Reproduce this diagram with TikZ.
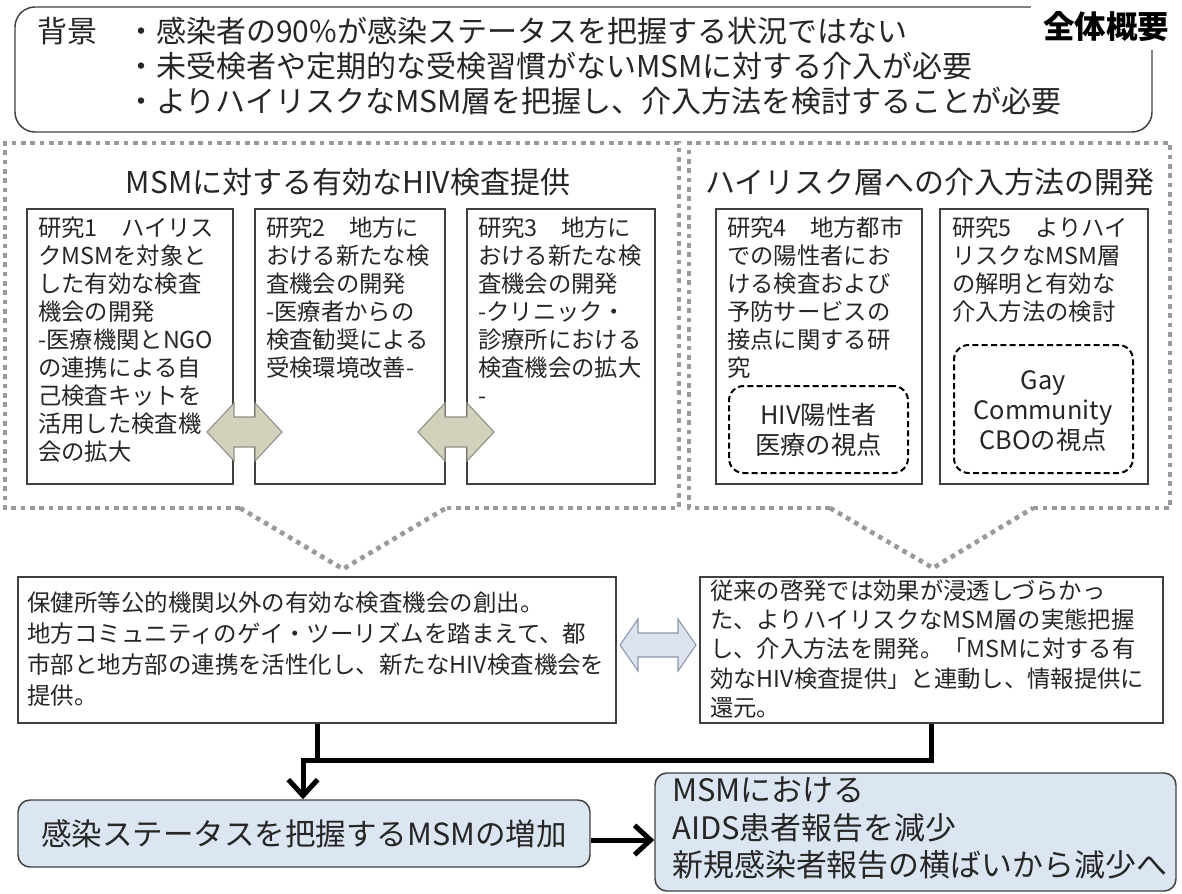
\documentclass[tikz,border=0pt]{standalone}
\usepackage{fontspec}
\setmainfont{Noto Sans CJK JP}
\usetikzlibrary{arrows.meta,fit}
\definecolor{txt}{HTML}{262626}
\definecolor{bord}{HTML}{404040}
\definecolor{dotgray}{HTML}{9A9A9A}
\definecolor{khaki}{HTML}{D3D0BC}
\definecolor{khakiline}{HTML}{8F8F86}
\definecolor{arrblue}{HTML}{DCE3EF}
\definecolor{arrblueline}{HTML}{8C96A8}
\definecolor{boxblue}{HTML}{DCE6F2}
\begin{document}
\begin{tikzpicture}[x=0.75pt,y=-0.75pt,
  plainbox/.style={draw=bord, line width=1.1pt, inner sep=0pt, fill=white},
  roundbox/.style={plainbox, rounded corners=15pt},
  bluebox/.style={draw=bord, line width=1.1pt, inner sep=0pt, fill=boxblue, rounded corners=9pt, text=txt},
  dashbox/.style={draw=black, line width=1.5pt, dashed, dash pattern=on 4.5pt off 2.5pt, rounded corners=11pt, inner sep=0pt},
  dotline/.style={draw=dotgray, line width=3.5pt, dash pattern=on 3.5pt off 3.5pt},
  txtnw/.style={inner sep=0pt, anchor=north west, align=left, text=txt},
  restext/.style={txtnw, font=\fontsize{17.5}{21}\selectfont},
  title/.style={inner sep=0pt, text=txt, font=\fontsize{22.5}{26}\selectfont},
  dashtext/.style={inner sep=0pt, align=center, text=txt, font=\fontsize{19}{22.5}\selectfont},
  khakiarrow/.style={fill=khaki, draw=khakiline, line width=0.8pt, line join=miter},
  bluearrow/.style={fill=arrblue, draw=arrblueline, line width=0.8pt, line join=miter},
  conn/.style={draw=black, line width=3.75pt},
  tipbarb/.style={-{Straight Barb[length=12pt,width=22pt]}}
]
\useasboundingbox (0,0) rectangle (1182,893);

% ---------- top background box ----------
\node[roundbox, fit={(15,7) (1152,132)}] (top) {};
\node[inner sep=0pt, minimum width=112pt, minimum height=34pt, fill=white, text=black,
      font=\fontsize{23.6}{26}\selectfont\bfseries] (label) at (1106,27) {全体概要};
\node[inner sep=0pt, anchor=west, text=txt, font=\fontsize{22.5}{26}\selectfont] (bg) at (37,31) {背景};
\node[txtnw, font=\fontsize{22.5}{26.25}\selectfont] (bgtext) at (126,17)
  {・感染者の90\%が感染ステータスを把握する状況ではない\\
   ・未受検者や定期的な受検習慣がないMSMに対する介入が必要\\
   ・よりハイリスクなMSM層を把握し、介入方法を検討することが必要};

% ---------- dotted group frames ----------
\coordinate (vl) at (343,569);
\coordinate (vr) at (933,568);
\draw[dotline] (240,508) -- (5,508) -- (5,143) -- (679,143) -- (679,508) -- (446,508);
\draw[dotline] (240,508) -- (vl) -- (446,508);
\draw[dotline] (830,508) -- (689,508) -- (689,143) -- (1170,143) -- (1170,508) -- (1033,508);
\draw[dotline] (830,508) -- (vr) -- (1033,508);
\node[title] (titleL) at (348,182) {MSMに対する有効なHIV検査提供};
\node[title] (titleR) at (930,182) {ハイリスク層への介入方法の開発};

% ---------- research boxes ----------
\node[plainbox, fit={(27,209) (233,484)}] (b1) {};
\node[plainbox, fit={(255,209) (445,484)}] (b2) {};
\node[plainbox, fit={(467,209) (655,484)}] (b3) {};
\node[plainbox, fit={(716,209) (922,484)}] (b4) {};
\node[plainbox, fit={(940,209) (1148,484)}] (b5) {};

\node[restext] (t1) at (38,217) {研究1　ハイリス\\クMSMを対象と\\した有効な検査\\機会の開発\\-医療機関とNGO\\の連携による自\\己検査キットを\\活用した検査機\\会の拡大};
\node[restext] (t2) at (266,217) {研究2　地方に\\おける新たな検\\査機会の開発\\-医療者からの\\検査勧奨による\\受検環境改善-};
\node[restext] (t3) at (478,217) {研究3　地方に\\おける新たな検\\査機会の開発\\-クリニック・\\診療所における\\検査機会の拡大\\-};
\node[restext] (t4) at (727,217) {研究4　地方都市\\での陽性者にお\\ける検査および\\予防サービスの\\接点に関する研\\究};
\node[restext] (t5) at (952,217) {研究5　よりハイ\\リスクなMSM層\\の解明と有効な\\介入方法の検討};

\node[dashbox, fit={(729,386) (908,473)}] (d4) {};
\node[dashtext] (d4t) at (d4.center) {HIV陽性者\\医療の視点};
\node[dashbox, fit={(954,345) (1133,473)}] (d5) {};
\node[dashtext] (d5t) at (1043,411) {Gay\\Community\\CBOの視点};

% khaki double arrows between research boxes
\draw[khakiarrow] (207,432) -- (234,403) -- (234,417) -- (255,417) -- (255,403) -- (282,432)
   -- (255,461) -- (255,447) -- (234,447) -- (234,461) -- cycle;
\draw[khakiarrow] (418,432) -- (445,403) -- (445,417) -- (467,417) -- (467,403) -- (494,432)
   -- (467,461) -- (467,447) -- (445,447) -- (445,461) -- cycle;

% ---------- middle result boxes ----------
\node[plainbox, fit={(18,577) (616,723)}] (m1) {};
\node[txtnw, font=\fontsize{17.6}{23.25}\selectfont] (m1t) at (27,591)
  {保健所等公的機関以外の有効な検査機会の創出。\\
   地方コミュニティのゲイ・ツーリズムを踏まえて、都\\
   市部と地方部の連携を活性化し、新たなHIV検査機会を\\
   提供。};
\node[plainbox, fit={(700,577) (1163,723)}] (m2) {};
\node[txtnw, font=\fontsize{17.5}{22.1}\selectfont] (m2t) at (710,579)
  {従来の啓発では効果が浸透しづらかっ\\
   た、よりハイリスクなMSM層の実態把握\\
   し、介入方法を開発。「MSMに対する有\\
   効なHIV検査提供」と連動し、情報提供に\\
   還元。};
\draw[bluearrow] (620,645) -- (638,619) -- (638,633) -- (678,633) -- (678,619) -- (696,645)
   -- (678,671) -- (678,657) -- (638,657) -- (638,671) -- cycle;

% ---------- bottom outcome boxes ----------
\node[bluebox, minimum width=429pt, minimum height=50.25pt,
      font=\fontsize{22.9}{27}\selectfont] (bl) at (304,833.5) {感染ステータスを把握するMSMの増加};
\node[bluebox, fit={(655,773) (1176,891)}] (br) {};
\node[txtnw, font=\fontsize{23.2}{28}\selectfont] (brt) at (672,777)
  {MSMにおける\\AIDS患者報告を減少\\新規感染者報告の横ばいから減少へ};

% ---------- connectors ----------
\coordinate (jl) at (317,760);
\coordinate (jr) at (931,760);
\coordinate (ja) at (303,760);
\coordinate (hy) at (0,840);
\draw[conn] (m1.south -| jl) -- (jl);
\draw[conn, tipbarb] (m2.south -| jr) -- (jr) -- (ja) -- (bl.north -| ja);
\draw[conn, tipbarb] (bl.east |- hy) -- (br.west |- hy);
\end{tikzpicture}
\end{document}
